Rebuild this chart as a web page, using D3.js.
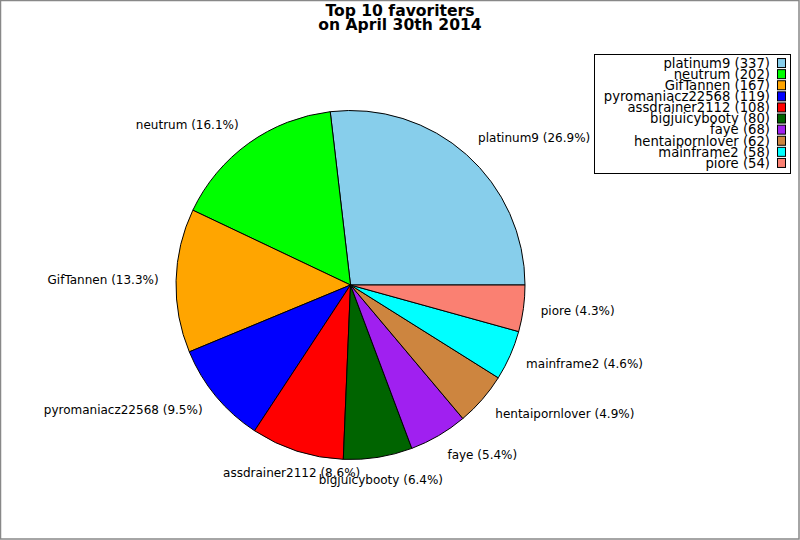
<!DOCTYPE html>
<html>
<head>
<meta charset="utf-8">
<script src="https://cdn.jsdelivr.net/npm/d3@7"></script>
<style>
  body { margin: 0; background: white; }
  text { font-family: "DejaVu Sans", sans-serif; }
</style>
</head>
<body>
<div class="chart"></div>
<script>
const w = 800;
const h = 540;

// data
const names = ["platinum9", "neutrum", "GifTannen", "pyromaniacz22568", "assdrainer2112",
               "bigjuicybooty", "faye", "hentaipornlover", "mainframe2", "piore"];
const counts = [337, 202, 167, 119, 108, 80, 68, 62, 58, 54];
const colors = ["#87ceeb", "#00ff00", "#ffa500", "#0000ff", "#ff0000",
                "#006400", "#a020f0", "#cd853f", "#00ffff", "#fa8072"];

const cx = 350.5, cy = 285, r = 174.5;
const total = d3.sum(counts);

const svg = d3.select(".chart")
              .append("svg")
              .attr("width", w)
              .attr("height", h)
              .style("background-color", "white");

// frame round the figure
svg.append("rect")
   .attr("x", 0.5).attr("y", 0.5)
   .attr("width", w - 1.5).attr("height", h - 1.5)
   .attr("fill", "none")
   .attr("stroke", "#888")
   .attr("stroke-width", 1.5);

const data = names.map((n, i) => ({name: n, value: counts[i], color: colors[i]}));

// start at 3 o'clock and go counter-clockwise
const pie = d3.pie()
              .value(d => d.value)
              .sort(null)
              .startAngle(Math.PI / 2)
              .endAngle(Math.PI / 2 - 2 * Math.PI);

const arc = d3.arc().innerRadius(0).outerRadius(r);
const arcs = pie(data);

const g = svg.append("g").attr("transform", `translate(${cx},${cy})`);

g.selectAll("path")
 .data(arcs)
 .enter()
 .append("path")
 .attr("d", arc)
 .attr("fill", d => d.data.color)
 .attr("stroke", "black")
 .attr("stroke-width", 1);

// slice labels just outside the rim; near the bottom they are centred
g.selectAll("text.lbl")
 .data(arcs)
 .enter()
 .append("text")
 .attr("class", "lbl")
 .attr("font-size", 12)
 .each(function(d) {
   const a = (d.startAngle + d.endAngle) / 2;
   const x = 1.1 * r * Math.sin(a);
   const y = -1.13 * r * Math.cos(a);
   const nearVertical = Math.abs(Math.sin(a)) < 0.4;
   d3.select(this)
     .attr("x", x)
     .attr("y", y)
     .attr("dy", "0.32em")
     .attr("text-anchor", nearVertical ? "middle" : (x >= 0 ? "start" : "end"));
 })
 .text(d => `${d.data.name} (${(d.data.value / total * 100).toFixed(1)}%)`);

// title
svg.append("text")
   .attr("x", 400).attr("y", 16)
   .attr("text-anchor", "middle")
   .attr("font-size", 15.6).attr("font-weight", "bold")
   .text("Top 10 favoriters");
svg.append("text")
   .attr("x", 400).attr("y", 30)
   .attr("text-anchor", "middle")
   .attr("font-size", 15.6).attr("font-weight", "bold")
   .text("on April 30th 2014");

// legend
const lx = 594.5, ly = 54.5, lw = 196, lh = 119;
svg.append("rect")
   .attr("x", lx).attr("y", ly)
   .attr("width", lw).attr("height", lh)
   .attr("fill", "white")
   .attr("stroke", "black");

const row = d3.scaleBand().domain(names).range([ly + 3, ly + lh - 5]);

const leg = svg.selectAll("g.leg")
               .data(data)
               .enter()
               .append("g")
               .attr("class", "leg")
               .attr("transform", d => `translate(0,${row(d.name) + row.bandwidth() / 2})`);

leg.append("text")
   .attr("x", 770)
   .attr("dy", "0.36em")
   .attr("text-anchor", "end")
   .attr("font-size", 13.2)
   .text(d => `${d.name} (${d.value})`);

leg.append("rect")
   .attr("x", 777.5).attr("y", -4.5)
   .attr("width", 8).attr("height", 9)
   .attr("fill", d => d.color)
   .attr("stroke", "black");
</script>
</body>
</html>
